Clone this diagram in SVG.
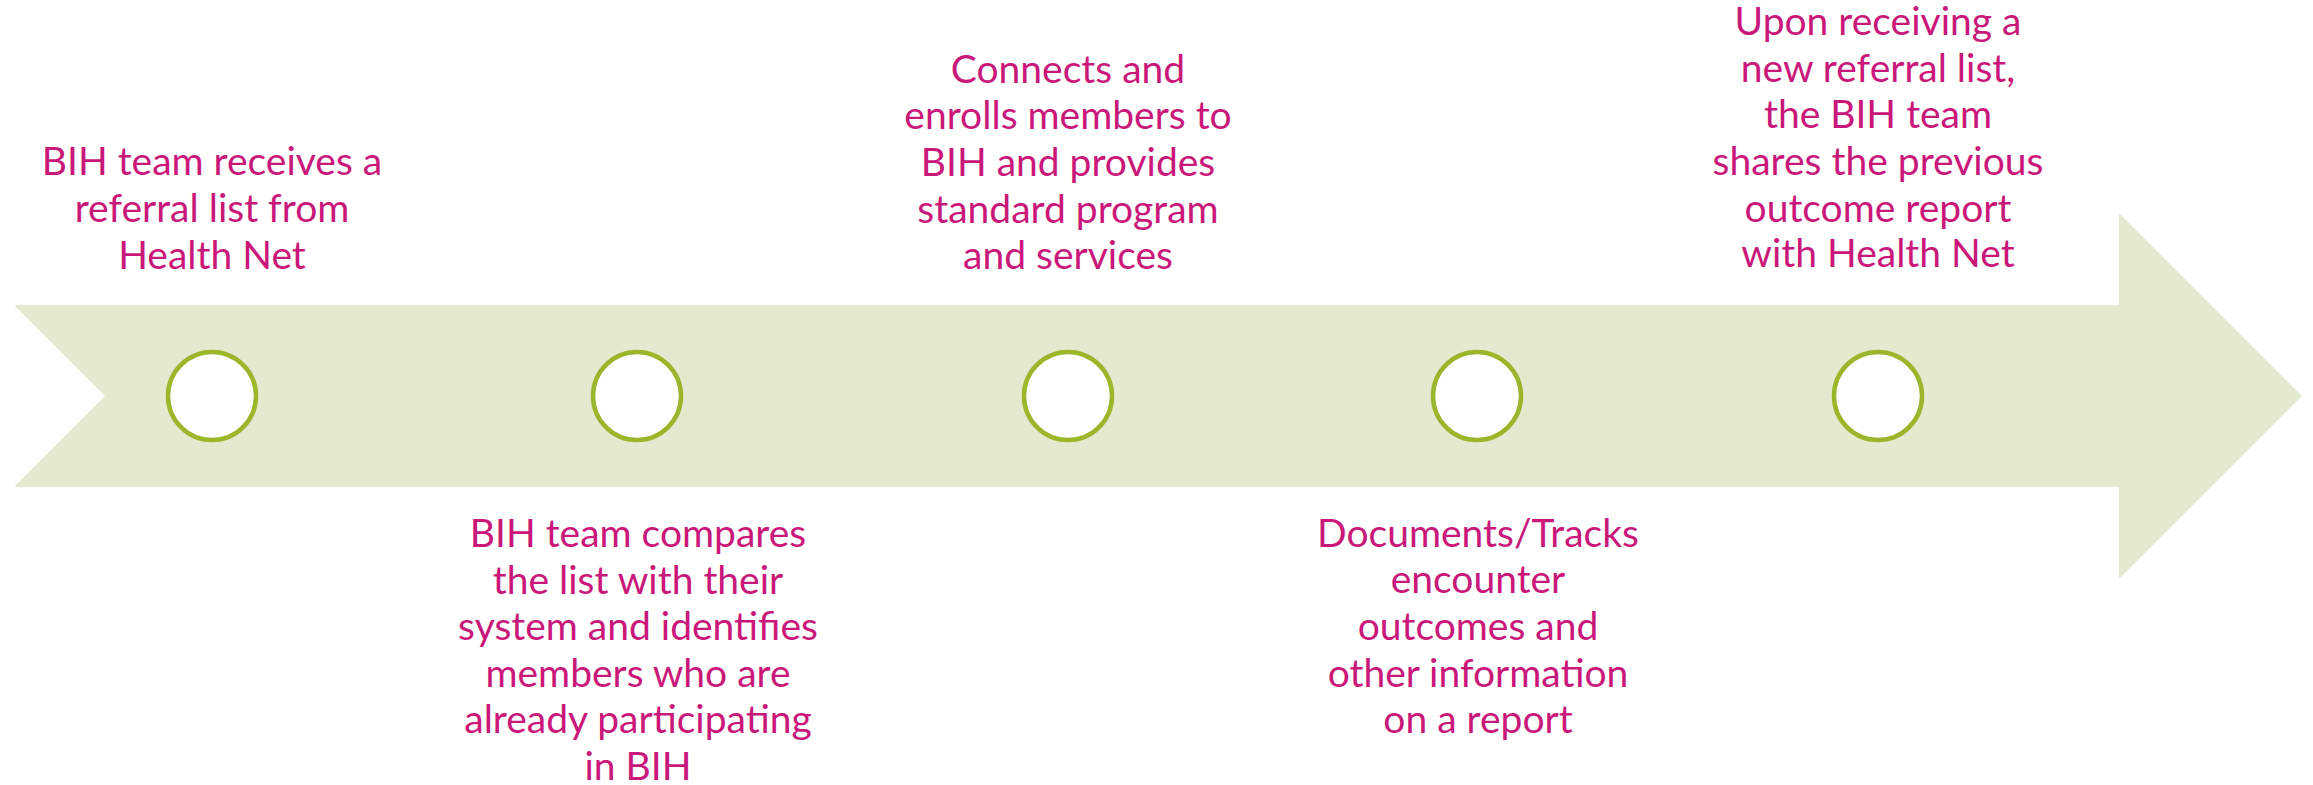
<svg xmlns="http://www.w3.org/2000/svg" width="2313" height="785" viewBox="0 0 2313 785">
<style>
.band{fill:#E2EBCF}
.dot{fill:#FFFFFF;stroke:#9CB62C;stroke-width:4.5}
.lbl{font-family:Lato,"Open Sans","Liberation Sans",sans-serif;font-size:39px;fill:#C9187A;text-anchor:middle}
</style>
<rect width="2313" height="785" fill="#FFFFFF"/>
<g id="connectors">
<polygon class="band" points="14,305 2119,305 2119,213 2302,396 2119,579 2119,487 14,487 105,396"/>
</g>
<g id="step1">
<circle class="dot" cx="212" cy="396" r="44"/>
<text class="lbl" x="212" y="175">BIH team receives a</text>
<text class="lbl" x="212" y="222">referral list from</text>
<text class="lbl" x="212" y="269">Health Net</text>
</g>
<g id="step2">
<circle class="dot" cx="637" cy="396" r="44"/>
<text class="lbl" x="638" y="547">BIH team compares</text>
<text class="lbl" x="638" y="594">the list with their</text>
<text class="lbl" x="638" y="640">system and identifies</text>
<text class="lbl" x="638" y="687">members who are</text>
<text class="lbl" x="638" y="733">already participating</text>
<text class="lbl" x="638" y="780">in BIH</text>
</g>
<g id="step3">
<circle class="dot" cx="1068" cy="396" r="44"/>
<text class="lbl" x="1068" y="83">Connects and</text>
<text class="lbl" x="1068" y="129">enrolls members to</text>
<text class="lbl" x="1068" y="176">BIH and provides</text>
<text class="lbl" x="1068" y="223">standard program</text>
<text class="lbl" x="1068" y="269">and services</text>
</g>
<g id="step4">
<circle class="dot" cx="1477" cy="396" r="44"/>
<text class="lbl" x="1478" y="547">Documents/Tracks</text>
<text class="lbl" x="1478" y="593">encounter</text>
<text class="lbl" x="1478" y="640">outcomes and</text>
<text class="lbl" x="1478" y="687">other information</text>
<text class="lbl" x="1478" y="733">on a report</text>
</g>
<g id="step5">
<circle class="dot" cx="1878" cy="396" r="44"/>
<text class="lbl" x="1878" y="35">Upon receiving a</text>
<text class="lbl" x="1878" y="82">new referral list,</text>
<text class="lbl" x="1878" y="128">the BIH team</text>
<text class="lbl" x="1878" y="175">shares the previous</text>
<text class="lbl" x="1878" y="222">outcome report</text>
<text class="lbl" x="1878" y="267">with Health Net</text>
</g>
</svg>
